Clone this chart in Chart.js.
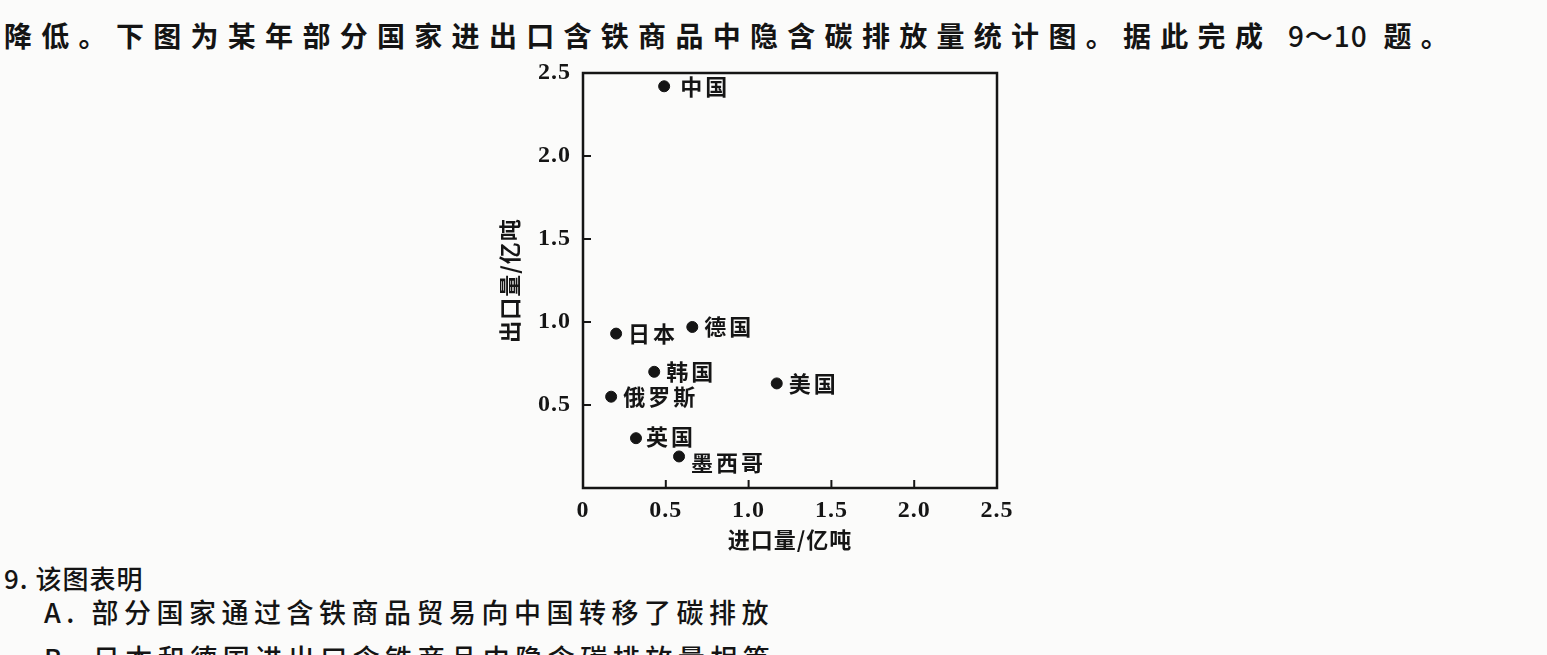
<!DOCTYPE html>
<html>
<head>
<meta charset="utf-8">
<script src="https://cdn.jsdelivr.net/npm/chart.js@4.4.1/dist/chart.umd.min.js"></script>
<style>
  html, body { margin: 0; padding: 0; }
  body {
    width: 1547px; height: 655px; overflow: hidden; position: relative;
    background: #fbfbfa; color: #141414;
    font-family: "Noto Sans CJK SC", sans-serif;
  }
  .line { position: absolute; white-space: nowrap; line-height: 1; }
  .lead { font-size: 28px; font-weight: 700; letter-spacing: 9.3px; }
  .lead .num { letter-spacing: 1px; font-weight: 500; }
  .q { font-size: 27px; font-weight: 500; letter-spacing: 5.5px; }
  .q9 { font-size: 26px; font-weight: 500; letter-spacing: 1px; }
  #wrap { position: absolute; left: 440px; top: 60px; width: 600px; height: 500px; }
</style>
</head>
<body>
<div class="line lead" style="left:4px; top:21px;">降低。下图为某年部分国家进出口含铁商品中隐含碳排放量统计图。据此完成 <span class="num">9～10</span> 题。</div>
<div id="wrap"><canvas id="scatterChart"></canvas></div>
<div class="line q9" style="left:4px; top:565px;">9. 该图表明</div>
<div class="line q" style="left:44px; top:598px;">A. 部分国家通过含铁商品贸易向中国转移了碳排放</div>
<div class="line q" style="left:44px; top:644px;">B. 日本和德国进出口含铁商品中隐含碳排放量相等</div>

<script>
const countries = ["中国", "日本", "德国", "韩国", "美国", "俄罗斯", "英国", "墨西哥"];
const importVals = [0.49, 0.20, 0.66, 0.43, 1.17, 0.17, 0.32, 0.58];
const exportVals = [2.42, 0.93, 0.97, 0.70, 0.63, 0.55, 0.30, 0.19];
const tickVals = [0, 0.5, 1.0, 1.5, 2.0, 2.5];

// small nudges for the point names
const labelShift = { "中国": [16, 0], "墨西哥": [12, 6], "英国": [10, -2] };

const ink = "#151515";

const framePlugin = {
  id: "frame",
  beforeDraw(chart) {
    chart.ctx.letterSpacing = "1px";
  },
  beforeDatasetsDraw(chart) {
    const { ctx, chartArea: a, scales } = chart;
    ctx.save();
    ctx.strokeStyle = ink;
    ctx.lineWidth = 2.5;
    ctx.strokeRect(a.left, a.top, a.right - a.left, a.bottom - a.top);
    ctx.lineWidth = 2;
    tickVals.slice(1, -1).forEach(v => {
      const x = scales.x.getPixelForValue(v);
      ctx.beginPath(); ctx.moveTo(x, a.bottom); ctx.lineTo(x, a.bottom - 8); ctx.stroke();
      const y = scales.y.getPixelForValue(v);
      ctx.beginPath(); ctx.moveTo(a.left, y); ctx.lineTo(a.left + 8, y); ctx.stroke();
    });
    ctx.restore();
  },
  afterDatasetsDraw(chart) {
    const { ctx } = chart;
    const pts = chart.getDatasetMeta(0).data;
    ctx.save();
    ctx.fillStyle = ink;
    ctx.font = "700 22px 'Noto Sans CJK SC'";
    ctx.letterSpacing = "3px";
    ctx.textBaseline = "middle";
    ctx.textAlign = "left";
    pts.forEach((p, i) => {
      const name = countries[i];
      const [dx, dy] = labelShift[name] || [12, 0];
      ctx.fillText(name, p.x + dx, p.y + dy);
    });
    ctx.restore();
  }
};

const numFont = { family: "'Liberation Serif', serif", size: 24, weight: "bold" };
const titleFont = { family: "'Noto Sans CJK SC', sans-serif", size: 22, weight: "bold" };

new Chart(document.getElementById("scatterChart").getContext("2d"), {
  type: "scatter",
  data: {
    datasets: [{
      data: importVals.map((v, i) => ({ x: v, y: exportVals[i] })),
      backgroundColor: ink,
      borderColor: ink,
      pointRadius: 5.5,
      pointHoverRadius: 5.5
    }]
  },
  options: {
    responsive: true,
    maintainAspectRatio: false,
    animation: false,
    layout: { padding: { top: 13, right: 43, left: 0, bottom: 0 } },
    plugins: { legend: { display: false }, tooltip: { enabled: false } },
    scales: {
      x: {
        type: "linear", min: 0, max: 2.5,
        grid: { display: false, drawTicks: false },
        border: { display: false },
        afterBuildTicks(s) { s.ticks = tickVals.map(v => ({ value: v })); },
        afterFit(s) { s.height = 72; s.paddingLeft = 0; s.paddingRight = 0; },
        ticks: {
          color: ink, font: numFont, padding: 8, maxRotation: 0,
          callback: v => (v === 0 ? "0" : v.toFixed(1))
        },
        title: { display: true, text: "进口量/亿吨", color: ink, font: titleFont, padding: { top: 0, bottom: 7 } }
      },
      y: {
        type: "linear", min: 0, max: 2.5,
        grid: { display: false, drawTicks: false },
        border: { display: false },
        afterBuildTicks(s) { s.ticks = tickVals.map(v => ({ value: v })); },
        afterFit(s) { s.width = 143; s.paddingTop = 0; s.paddingBottom = 0; },
        ticks: {
          color: ink, font: numFont, padding: 12,
          callback: v => (v === 0 ? "" : v.toFixed(1))
        },
        title: { display: true, text: "出口量/亿吨", color: ink, font: titleFont, padding: { top: 56, bottom: 0 } }
      }
    }
  },
  plugins: [framePlugin]
});
</script>
</body>
</html>
